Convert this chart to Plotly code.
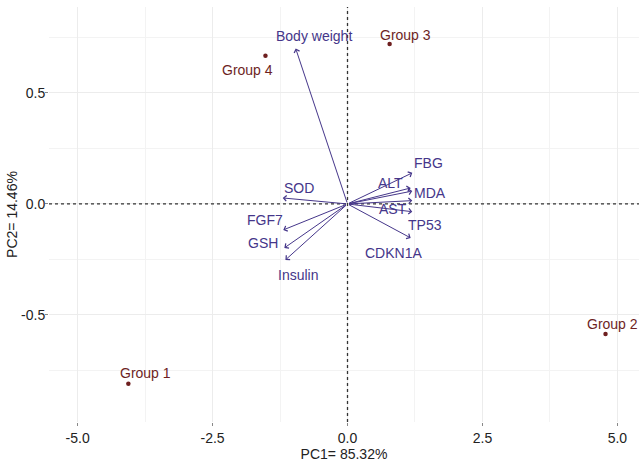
import plotly.graph_objects as go

# ---- data ----
groups = ["Group 1", "Group 2", "Group 3", "Group 4"]
group_pc1 = [-4.06, 4.78, 0.78, -1.52]
group_pc2 = [-0.81, -0.586, 0.72, 0.667]

variables = ["Body weight", "SOD", "FGF7", "GSH", "Insulin",
             "FBG", "ALT", "MDA", "AST", "TP53", "CDKN1A"]
load_pc1 = [-0.96, -1.20, -1.19, -1.17, -1.15, 1.20, 1.17, 1.20, 1.20, 1.20, 1.17]
load_pc2 = [0.70, 0.027, -0.117, -0.198, -0.252, 0.14, 0.072, 0.058, 0.015, -0.035, -0.153]

x_ticks = [-5.0, -2.5, 0.0, 2.5, 5.0]
y_ticks = [-0.5, 0.0, 0.5]
x_title = "PC1= 85.32%"
y_title = "PC2= 14.46%"

# ---- styles (pixel offsets for labels) ----
group_label_shift = {
    "Group 1": (17, 11), "Group 2": (7, 10), "Group 3": (16, 9), "Group 4": (-18, -14),
}
var_label_shift = {
    "Body weight": (18, 13), "SOD": (16, 10), "FGF7": (-18, 10), "GSH": (-21, 5),
    "Insulin": (13, -15), "FBG": (16, 10), "ALT": (-20, 5), "MDA": (18, -2),
    "AST": (-19, -8), "TP53": (13, -13), "CDKN1A": (-17, -15),
}

GROUP_COL = "#6e1f1f"
VAR_COL = "#45368a"
FONT = "Liberation Sans, Arial, sans-serif"

fig = go.Figure()

fig.add_trace(go.Scatter(
    x=group_pc1, y=group_pc2, mode="markers",
    marker=dict(color=GROUP_COL, size=4.5),
    hoverinfo="skip", showlegend=False, cliponaxis=False,
))

annotations = []
for g, gx, gy in zip(groups, group_pc1, group_pc2):
    dx, dy = group_label_shift[g]
    annotations.append(dict(
        x=gx, y=gy, xref="x", yref="y", text=g, showarrow=False,
        xshift=dx, yshift=dy, font=dict(color=GROUP_COL, size=14, family=FONT),
    ))

for v, vx, vy in zip(variables, load_pc1, load_pc2):
    annotations.append(dict(
        x=vx, y=vy, xref="x", yref="y", ax=0, ay=0, axref="x", ayref="y",
        text="", showarrow=True, arrowhead=4, arrowsize=1.1, arrowwidth=1,
        arrowcolor=VAR_COL, standoff=0,
    ))
    dx, dy = var_label_shift[v]
    annotations.append(dict(
        x=vx, y=vy, xref="x", yref="y", text=v, showarrow=False,
        xshift=dx, yshift=dy, font=dict(color=VAR_COL, size=14, family=FONT),
    ))

shapes = [
    dict(type="line", xref="x", yref="paper", x0=0, x1=0, y0=0, y1=1,
         line=dict(color="#333333", width=1.3, dash="3px,3px"), layer="above"),
    dict(type="line", xref="paper", yref="y", x0=0, x1=1, y0=0, y1=0,
         line=dict(color="#333333", width=1.3, dash="3px,3px"), layer="above"),
]

grid_col = "#ececec"
fig.update_layout(
    width=639, height=464,
    margin=dict(l=49, r=0, t=7, b=42),
    paper_bgcolor="white", plot_bgcolor="white",
    font=dict(family=FONT, size=14, color="#222222"),
    annotations=annotations, shapes=shapes,
    xaxis=dict(
        range=[-5.53, 5.40], tickvals=x_ticks, ticktext=[f"{t:.1f}" for t in x_ticks],
        showgrid=True, gridcolor=grid_col, gridwidth=1, zeroline=False,
        ticks="outside", ticklen=3, tickcolor="#888888", tickwidth=1,
        tickfont=dict(size=14, color="#222222"),
        minor=dict(tickvals=[-3.75, -1.25, 1.25, 3.75], showgrid=True,
                   gridcolor="#f3f3f3", gridwidth=1),
        title=dict(text=x_title, standoff=2, font=dict(size=14, color="#222222")),
        showline=False,
    ),
    yaxis=dict(
        range=[-0.982, 0.887], tickvals=y_ticks, ticktext=[f"{t:.1f}" for t in y_ticks],
        showgrid=True, gridcolor=grid_col, gridwidth=1, zeroline=False,
        ticks="outside", ticklen=3, tickcolor="#888888", tickwidth=1,
        ticklabelstandoff=-3,
        tickfont=dict(size=14, color="#222222"),
        minor=dict(tickvals=[-0.75, -0.25, 0.25, 0.75], showgrid=True,
                   gridcolor="#f3f3f3", gridwidth=1),
        title=dict(text=y_title, standoff=0, font=dict(size=14, color="#222222")),
        showline=False,
    ),
)

fig.write_html("out.html")
